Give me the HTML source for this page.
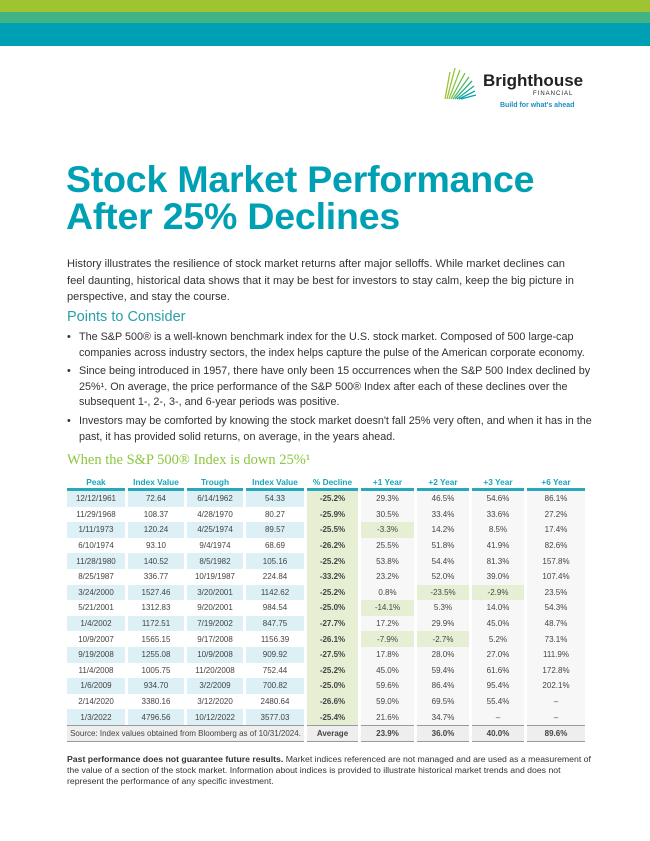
<!DOCTYPE html>
<html><head><meta charset="utf-8">
<style>
*{margin:0;padding:0;box-sizing:border-box}
body{width:650px;height:841px;background:#fff;font-family:"Liberation Sans",sans-serif;color:#333;position:relative;overflow:hidden}
.abs{position:absolute}
h1{position:absolute;left:66px;top:161px;font-size:37.5px;line-height:37px;color:#00a0b4;font-weight:bold;letter-spacing:-0.2px}
.intro{left:67px;top:256px;width:512px;font-size:11.1px;line-height:16.6px;color:#333}
.pts{left:67px;top:309px;font-size:14.5px;color:#2aa0a8}
ul{position:absolute;left:67px;top:330px;width:525px;list-style:none;font-size:10.8px;line-height:15.6px}
ul li{padding-left:12px;position:relative;margin-bottom:3px}
ul li:before{content:"•";position:absolute;left:0}
.th{left:67px;top:452px;font-family:"Liberation Serif",serif;font-size:14.5px;color:#8cc63f}
table{position:absolute;left:64px;top:476px;width:524px;table-layout:fixed;border-collapse:separate;border-spacing:3px 0;font-size:8px;text-align:center;color:#444}
th{color:#1aa5b8;font-weight:bold;height:15px;border-bottom:3px solid #2aa7b8;font-size:8.3px}
td{height:15.6px;white-space:nowrap;overflow:hidden}
tr.o td.b{background:#dcf0f5}
td.d{background:#e6efd4;font-weight:bold}
td.g{background:#f7f7f7}
td.hl{background:#e6efd4}
tr.avg td{background:#eeeeee;border-top:1px solid #999;border-bottom:1px solid #999;font-weight:bold;height:17px}
.foot{left:67px;top:754px;width:525px;font-size:8.7px;line-height:11.2px;color:#333}
</style></head><body>
<div class="abs" style="left:0;top:0;width:650px;height:12px;background:#a0c431"></div>
<div class="abs" style="left:0;top:12px;width:650px;height:11px;background:#42b382"></div>
<div class="abs" style="left:0;top:23px;width:650px;height:23px;background:#00a0b4"></div>
<div class="abs" style="left:443px;top:66px;width:142px;height:46px">
<svg width="40" height="34" style="position:absolute;left:0;top:0">
<g stroke-width="1.3">
<line x1="4" y1="33" x2="12" y2="2" stroke="#8cc63f"/><line x1="6" y1="33" x2="17" y2="4" stroke="#8cc63f"/>
<line x1="8" y1="33" x2="22" y2="7" stroke="#6cbf4a"/><line x1="10" y1="33" x2="26" y2="11" stroke="#4db86a"/>
<line x1="12" y1="33" x2="29" y2="15" stroke="#34b082"/><line x1="14" y1="33" x2="31" y2="20" stroke="#20a99a"/>
<line x1="16" y1="33" x2="32" y2="25" stroke="#10a4aa"/><line x1="18" y1="33" x2="33" y2="29" stroke="#00a0b4"/>
<line x1="2" y1="33" x2="7" y2="6" stroke="#a0c431"/>
</g></svg>
<div class="abs" style="left:40px;top:5px;font-size:17px;font-weight:bold;color:#222">Brighthouse</div>
<div class="abs" style="left:90px;top:25px;font-size:6px;letter-spacing:1px;color:#222">FINANCIAL</div>
<div class="abs" style="left:57px;top:36px;font-size:7px;font-weight:bold;color:#1a8fc0">Build for what's ahead</div>
</div>
<h1>Stock Market Performance<br>After 25% Declines</h1>
<p class="abs intro">History illustrates the resilience of stock market returns after major selloffs. While market declines can feel daunting, historical data shows that it may be best for investors to stay calm, keep the big picture in perspective, and stay the course.</p>
<div class="abs pts">Points to Consider</div>
<ul>
<li>The S&amp;P 500® is a well-known benchmark index for the U.S. stock market. Composed of 500 large-cap companies across industry sectors, the index helps capture the pulse of the American corporate economy.</li>
<li>Since being introduced in 1957, there have only been 15 occurrences when the S&amp;P 500 Index declined by 25%¹. On average, the price performance of the S&amp;P 500® Index after each of these declines over the subsequent 1-, 2-, 3-, and 6-year periods was positive.</li>
<li>Investors may be comforted by knowing the stock market doesn't fall 25% very often, and when it has in the past, it has provided solid returns, on average, in the years ahead.</li>
</ul>
<div class="abs th">When the S&amp;P 500® Index is down 25%¹</div>
<table id="tbl">
<colgroup><col style="width:58px"><col style="width:56px"><col style="width:56px"><col style="width:58px"><col style="width:51px"><col style="width:53px"><col style="width:52px"><col style="width:52px"><col style="width:58px"></colgroup>
<thead><tr><th>Peak</th><th>Index Value</th><th>Trough</th><th>Index Value</th><th>% Decline</th><th>+1 Year</th><th>+2 Year</th><th>+3 Year</th><th>+6 Year</th></tr></thead>
<tbody id="tb"></tbody>
</table>
<p class="abs foot"><b>Past performance does not guarantee future results.</b> Market indices referenced are not managed and are used as a measurement of the value of a section of the stock market. Information about indices is provided to illustrate historical market trends and does not represent the performance of any specific investment.</p>
<script>
const peaks=["12/12/1961","11/29/1968","1/11/1973","6/10/1974","11/28/1980","8/25/1987","3/24/2000","5/21/2001","1/4/2002","10/9/2007","9/19/2008","11/4/2008","1/6/2009","2/14/2020","1/3/2022"];
const peakVals=["72.64","108.37","120.24","93.10","140.52","336.77","1527.46","1312.83","1172.51","1565.15","1255.08","1005.75","934.70","3380.16","4796.56"];
const troughs=["6/14/1962","4/28/1970","4/25/1974","9/4/1974","8/5/1982","10/19/1987","3/20/2001","9/20/2001","7/19/2002","9/17/2008","10/9/2008","11/20/2008","3/2/2009","3/12/2020","10/12/2022"];
const troughVals=["54.33","80.27","89.57","68.69","105.16","224.84","1142.62","984.54","847.75","1156.39","909.92","752.44","700.82","2480.64","3577.03"];
const declines=[-25.2,-25.9,-25.5,-26.2,-25.2,-33.2,-25.2,-25.0,-27.7,-26.1,-27.5,-25.2,-25.0,-26.6,-25.4];
const y1=[29.3,30.5,-3.3,25.5,53.8,23.2,0.8,-14.1,17.2,-7.9,17.8,45.0,59.6,59.0,21.6];
const y2=[46.5,33.4,14.2,51.8,54.4,52.0,-23.5,5.3,29.9,-2.7,28.0,59.4,86.4,69.5,34.7];
const y3=[54.6,33.6,8.5,41.9,81.3,39.0,-2.9,14.0,45.0,5.2,27.0,61.6,95.4,55.4,null];
const y6=[86.1,27.2,17.4,82.6,157.8,107.4,23.5,54.3,48.7,73.1,111.9,172.8,202.1,null,null];
const averages=["23.9%","36.0%","40.0%","89.6%"];
const tb=document.getElementById('tb');
const fmt=v=>v==null?'–':v.toFixed(1)+'%';
for(let i=0;i<peaks.length;i++){
  const tr=document.createElement('tr');
  
  
  if(i%2===0)tr.className='o';
  const cells=[[peaks[i],'b'],[peakVals[i],'b'],[troughs[i],'b'],[troughVals[i],'b'],[fmt(declines[i]),'d']];
  [y1,y2,y3,y6].forEach(a=>{const v=a[i];cells.push([fmt(v),(v!=null&&v<0&&a!==y6)?'hl':'g'])});
  cells.forEach(c=>{const td=document.createElement('td');td.textContent=c[0];td.className=c[1];
    
    
    tr.appendChild(td);});
  tb.appendChild(tr);
}
const ar=document.createElement('tr');ar.className='avg';


const s=document.createElement('td');s.colSpan=4;s.style.fontWeight='normal';s.textContent='Source: Index values obtained from Bloomberg as of 10/31/2024.';


ar.appendChild(s);
const a=document.createElement('td');a.textContent='Average';


ar.appendChild(a);
averages.forEach(v=>{const td=document.createElement('td');td.textContent=v;
  
  
  ar.appendChild(td);});
tb.appendChild(ar);
</script>
</body></html>
